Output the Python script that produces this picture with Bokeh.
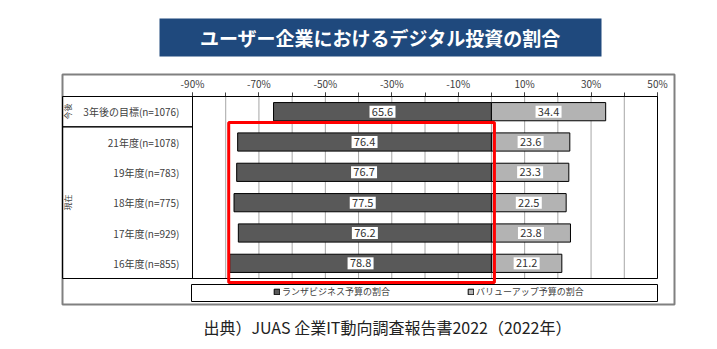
from bokeh.plotting import figure
from bokeh.models import (ColumnDataSource, Range1d, FixedTicker, PrintfTickFormatter,
                          LabelSet, Label, BoxAnnotation, Legend, LegendItem)
from bokeh.core.properties import value
from bokeh.embed import file_html
from bokeh.resources import INLINE

# ---- data ----
title_text = "ユーザー企業におけるデジタル投資の割合"
categories = ["3年後の目標(n=1076)", "21年度(n=1078)", "19年度(n=783)",
              "18年度(n=775)", "17年度(n=929)", "16年度(n=855)"]
run_business = [65.6, 76.4, 76.7, 77.5, 76.2, 78.8]
value_up = [34.4, 23.6, 23.3, 22.5, 23.8, 21.2]
x_tick_values = [-90, -70, -50, -30, -10, 10, 30, 50]
grid_tick_values = [-90, -80, -70, -60, -50, -40, -30, -20, -10, 0, 10, 20, 30, 40, 50]
series_names = ["ランザビジネス予算の割合", "バリューアップ予算の割合"]
group_labels = ["今後", "現在"]
source_note = "出典）JUAS 企業IT動向調査報告書2022（2022年）"
highlight_x = (-79.1, 0.9)

FONT = "Noto Sans CJK JP"
DARK = "#595959"
LIGHT = "#b3b3b3"

# ---- layout geometry (canvas pixels) ----
W, H = 717, 349
PLOT_L, PLOT_R, PLOT_T, PLOT_B = 192, 657, 96, 278
XMIN, XMAX = x_tick_values[0], x_tick_values[-1]
n = len(categories)
kx = (PLOT_R - PLOT_L) / (XMAX - XMIN)
ky = (PLOT_B - PLOT_T) / n
x_start = XMIN - PLOT_L / kx
x_end = XMAX + (W - PLOT_R) / kx
y_top = -0.5 - PLOT_T / ky
y_bottom = -0.5 + (H - PLOT_T) / ky

rows = list(range(n))
src = ColumnDataSource(dict(
    row=rows,
    rb_left=[-v for v in run_business],
    zero=[0] * n,
    vu=value_up,
    rb_mid=[-v / 2 for v in run_business],
    vu_mid=[v / 2 for v in value_up],
    rb_txt=[f"{v:.1f}" for v in run_business],
    vu_txt=[f"{v:.1f}" for v in value_up],
))

p = figure(width=W, height=H,
           x_range=Range1d(x_start, x_end),
           y_range=Range1d(y_bottom, y_top),
           x_axis_location="above",
           output_backend="svg", toolbar_location=None,
           min_border=0, min_border_left=0, min_border_right=0,
           min_border_top=0, min_border_bottom=0)
p.background_fill_color = "white"
p.border_fill_color = "white"
p.outline_line_color = None
p.xgrid.grid_line_color = None
p.ygrid.grid_line_color = None

# x axis (top of plot area)
xa = p.xaxis[0]
xa.fixed_location = -0.5
xa.bounds = (XMIN, XMAX)
xa.ticker = FixedTicker(ticks=x_tick_values, minor_ticks=grid_tick_values)
xa.formatter = PrintfTickFormatter(format="%d%%")
xa.major_tick_out = 4
xa.major_tick_in = 0
xa.minor_tick_out = 4
xa.minor_tick_in = 0
xa.major_tick_line_color = "#404040"
xa.minor_tick_line_color = "#404040"
xa.axis_line_color = "black"
xa.major_label_text_font = FONT
xa.major_label_text_font_size = "10px"
xa.major_label_text_color = "#404040"
xa.major_label_standoff = 2

# y axis (category labels)
ya = p.yaxis[0]
ya.fixed_location = XMIN
ya.bounds = (-0.5, n - 0.5)
ya.ticker = FixedTicker(ticks=rows, minor_ticks=[])
ya.major_label_overrides = {i: c for i, c in zip(rows, categories)}
ya.major_tick_line_color = None
ya.minor_tick_line_color = None
ya.axis_line_color = "black"
ya.major_label_text_font = FONT
ya.major_label_text_font_size = "10px"
ya.major_label_text_color = "#404040"
ya.major_label_standoff = 7

# vertical grid lines inside the plot area
p.segment(x0=grid_tick_values, y0=[-0.5] * len(grid_tick_values),
          x1=grid_tick_values, y1=[n - 0.5] * len(grid_tick_values),
          line_color="#a6a6a6", line_width=1)

# bars
r1 = p.hbar(y="row", left="rb_left", right="zero", height=0.6, source=src,
            fill_color=DARK, line_color="black", line_width=1)
r2 = p.hbar(y="row", left="zero", right="vu", height=0.6, source=src,
            fill_color=LIGHT, line_color="black", line_width=1)

# value labels on white boxes
for xcol, tcol in (("rb_mid", "rb_txt"), ("vu_mid", "vu_txt")):
    p.rect(x=xcol, y="row", width=26, height=12, width_units="screen",
           height_units="screen", source=src, fill_color="white", line_color=None)
    p.add_layout(LabelSet(x=xcol, y="row", text=tcol, source=src,
                          text_align="center", text_baseline="middle",
                          text_font=value(FONT), text_font_size="11px",
                          text_color="#333333"))


def cbox(l, r, t, b, **kw):
    opts = dict(left=l, right=r, top=t, bottom=b,
                left_units="canvas", right_units="canvas",
                top_units="canvas", bottom_units="canvas",
                fill_color=None, fill_alpha=0, line_alpha=1)
    opts.update(kw)
    return BoxAnnotation(**opts)


# plot area border
p.add_layout(cbox(PLOT_L, PLOT_R, PLOT_T, PLOT_B, line_color="black", line_width=1))
# outer frame and left column lines
p.add_layout(cbox(62, 674, 74, 304, line_color="#808080", line_width=2))
p.add_layout(cbox(62, PLOT_L, PLOT_T, PLOT_B, line_color="black", line_width=1))
p.add_layout(cbox(62, PLOT_L, PLOT_T + ky, PLOT_T + ky, line_color="black", line_width=1))

# red highlight
p.add_layout(BoxAnnotation(left=highlight_x[0], right=highlight_x[1],
                           top=122, bottom=282,
                           top_units="canvas", bottom_units="canvas",
                           fill_color=None, fill_alpha=0, line_alpha=1,
                           line_color="#ff0000", line_width=3))

# legend box and legends
p.add_layout(cbox(191, 657, 284, 301, line_color="black", line_width=1))
for r, name, vx in ((r1, series_names[0], 273), (r2, series_names[1], 467)):
    leg = Legend(items=[LegendItem(label=name, renderers=[r])], location=(vx, 51),
                 border_line_color=None, background_fill_alpha=0, padding=0, margin=0,
                 glyph_width=7, glyph_height=7, label_standoff=2, spacing=0,
                 label_text_font=FONT, label_text_font_size="9px",
                 label_text_color="#404040", label_height=9)
    p.add_layout(leg)

# group labels
for txt, yy in zip(group_labels, (111, 202)):
    p.add_layout(Label(x=67, y=yy, x_units="canvas", y_units="canvas", text=txt,
                       angle=90, angle_units="deg", text_align="center",
                       text_baseline="middle", text_font=FONT, text_font_size="8px",
                       text_color="#404040"))

# title banner
p.add_layout(cbox(159, 601, 18, 56, fill_color="#1f497d", fill_alpha=1, line_color=None))
p.add_layout(Label(x=380, y=37, x_units="canvas", y_units="canvas", text=title_text,
                   text_align="center", text_baseline="middle", text_font=FONT,
                   text_font_size="19px", text_font_style="bold", text_color="white"))

# source note
p.add_layout(Label(x=387, y=326, x_units="canvas", y_units="canvas", text=source_note,
                   text_align="center", text_baseline="middle", text_font=FONT,
                   text_font_size="16px", text_color="#222222"))

open("out.html", "w").write(file_html(p, INLINE))
